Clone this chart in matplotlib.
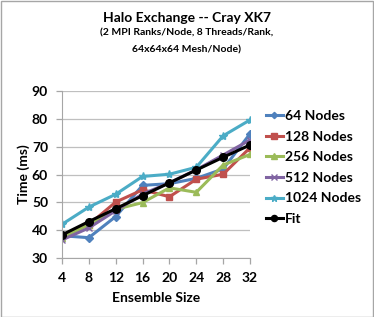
import matplotlib.pyplot as plt
from matplotlib.patches import Rectangle

plt.rcParams['font.family'] = ['Lato', 'DejaVu Sans']
plt.rcParams['font.weight'] = 'bold'

ensemble = [4, 8, 12, 16, 20, 24, 28, 32]

nodes_64 = [38.0, 37.3, 44.9, 56.1, 56.7, 58.6, 62.0, 74.6]
nodes_128 = [38.0, 42.0, 50.1, 54.5, 52.0, 58.3, 60.1, 69.6]
nodes_256 = [37.2, 42.0, 47.5, 49.9, 55.2, 53.6, 63.4, 67.2]
nodes_512 = [36.5, 40.8, 47.0, 53.0, 57.0, 61.7, 67.0, 72.4]
nodes_1024 = [42.1, 48.3, 52.9, 59.3, 60.1, 62.6, 73.9, 79.6]
fit = [38.3, 43.1, 47.7, 52.4, 57.0, 61.6, 66.2, 70.6]

series = [
    ("64 Nodes", nodes_64, "#4F81BD", "D", 4),
    ("128 Nodes", nodes_128, "#C0504D", "s", 5),
    ("256 Nodes", nodes_256, "#9BBB59", "^", 5),
    ("512 Nodes", nodes_512, "#8064A2", "x", 5),
    ("1024 Nodes", nodes_1024, "#4BACC6", "*", 6),
]

fig = plt.figure(figsize=(3.74, 3.17), dpi=100)
ax = fig.add_axes([62 / 374, 59 / 317, 188 / 374, 167 / 317])

for label, vals, color, marker, ms in series:
    ax.plot(ensemble, vals, color=color, lw=2.2, marker=marker, ms=ms,
            markeredgewidth=1, label=label)
ax.plot(ensemble, fit, color="black", lw=2.2, marker="o", ms=5.5, label="Fit")

ax.set_xlim(4, 32)
ax.set_ylim(30, 90)
ax.set_xticks(ensemble)
ax.set_yticks(range(30, 91, 10))
ax.grid(axis="y", color="#BFBFBF", lw=0.9)
ax.set_axisbelow(True)
for side in ["top", "right"]:
    ax.spines[side].set_visible(False)
for side in ["left", "bottom"]:
    ax.spines[side].set_color("#A6A6A6")
ax.tick_params(axis="both", colors="#A6A6A6", labelcolor="black",
               labelsize=10, length=4, width=0.9, pad=6)
ax.set_xlabel("Ensemble Size", fontsize=10, fontweight="bold", labelpad=6)
ax.set_ylabel("Time (ms)", fontsize=10, fontweight="bold", labelpad=1)

ax.legend(loc="upper left", bbox_to_anchor=(266 / 374, 1 - 110 / 317),
          bbox_transform=fig.transFigure, frameon=False, fontsize=10,
          handlelength=1.2, handletextpad=0.15, labelspacing=0.62,
          markerscale=0.8, borderaxespad=0, borderpad=0)

fig.text(0.5, 1 - 18 / 317, "Halo Exchange -- Cray XK7", ha="center",
         va="center", fontsize=10, fontweight="bold")
fig.text(0.5, 1 - 33 / 317, "(2 MPI Ranks/Node, 8 Threads/Rank,",
         ha="center", va="center", fontsize=7.5, fontweight="bold")
fig.text(0.5, 1 - 50 / 317, "64x64x64 Mesh/Node)",
         ha="center", va="center", fontsize=7.5, fontweight="bold")

fig.patches.append(Rectangle((0.5 / 374, 0.5 / 317), 1 - 1.5 / 374, 1 - 1.5 / 317,
                             transform=fig.transFigure, fill=False,
                             edgecolor="#A6A6A6", lw=1))

fig.savefig("out.png", dpi=100)
